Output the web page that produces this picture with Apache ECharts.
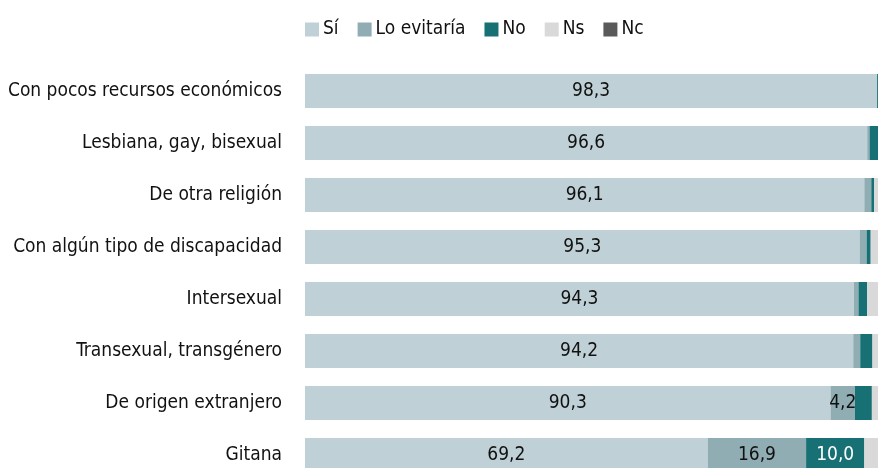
<!DOCTYPE html>
<html><head><meta charset="utf-8">
<script src="https://cdn.jsdelivr.net/npm/echarts@6/dist/echarts.min.js"></script>
<style>html,body{margin:0;padding:0;background:#fff}#c{width:878px;height:468px}</style>
</head><body><div id="c"></div>
<script>
const categories = ["Con pocos recursos económicos","Lesbiana, gay, bisexual","De otra religión","Con algún tipo de discapacidad","Intersexual","Transexual, transgénero","De origen extranjero","Gitana"];
const seriesNames = ["Sí","Lo evitaría","No","Ns","Nc"];
const si = [98.3, 96.6, 96.1, 95.3, 94.3, 94.2, 90.3, 69.2];
const loEvitaria = [0.0, 0.4, 1.2, 1.2, 0.8, 1.2, 4.2, 16.9];
const no = [1.0, 2.0, 0.5, 0.7, 1.5, 2.1, 2.9, 10.0];
const ns = [0.6, 0.9, 2.0, 2.6, 3.2, 2.3, 2.4, 3.9];
const nc = [0.1, 0.1, 0.2, 0.2, 0.2, 0.2, 0.2, 0.0];
const colors = ["#bfd0d6","#90adb4","#167074","#d9d9d9","#5a5a5a"];
const FONT = "'DejaVu Sans'";
const FW = "condensed";
const values = [si, loEvitaria, no, ns, nc];
const labelColors = ["#111111","#111111","#ffffff","#111111","#ffffff"];
const chart = echarts.init(document.getElementById('c'), null, {renderer:'canvas'});
chart.setOption({
  animation:false,
  legend:{left:305, top:20, itemWidth:14, itemHeight:14, itemGap:19, padding:0, icon:'rect',
    textStyle:{fontFamily:FONT, fontWeight:FW, fontSize:19, color:'#111111', padding:[0,0,0,-1]}, data:seriesNames},
  grid:{left:305, top:65, width:582, height:416, outerBoundsMode:'none', containLabel:false},
  xAxis:{type:'value', min:0, max:100, show:false},
  yAxis:{type:'category', data:categories, inverse:true, axisLine:{show:false}, axisTick:{show:false},
    axisLabel:{fontFamily:FONT, fontWeight:FW, fontSize:19, color:'#111111', margin:23}},
  series: seriesNames.map((n,i)=>({
    name:n, type:'bar', stack:'t', barWidth:34, clip:false,
    itemStyle:{color:colors[i]},
    label:{show:true, position:'inside', fontFamily:FONT, fontWeight:FW, fontSize:19, color:labelColors[i],
      formatter:p=> p.value>=4 ? p.value.toFixed(1).replace('.',',') : ''},
    data: values[i]
  }))
});
</script></body></html>
